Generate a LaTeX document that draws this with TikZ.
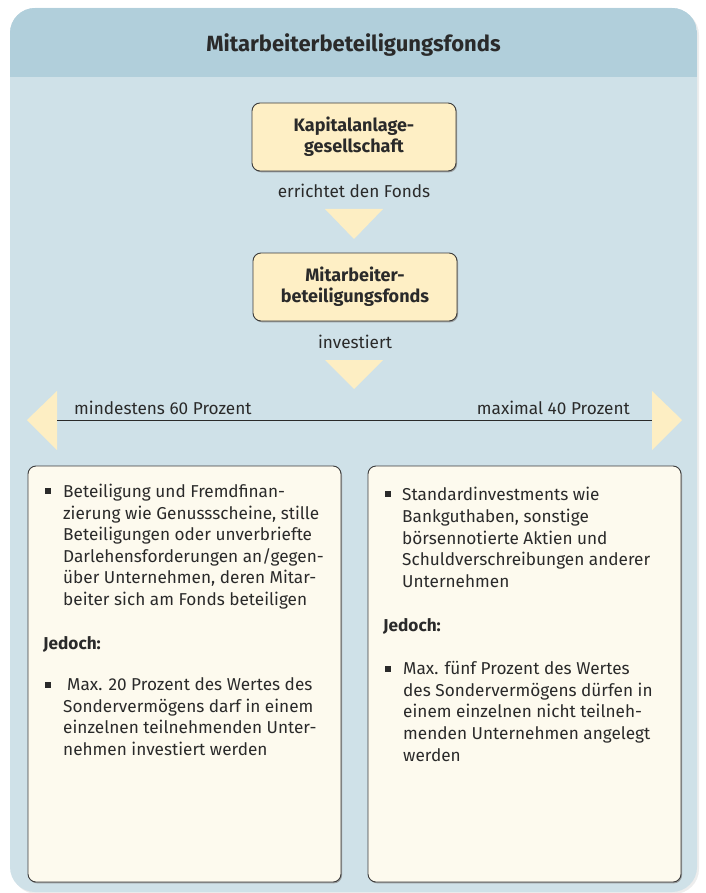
\documentclass[tikz,border=0pt]{standalone}
\usepackage{fontspec}
\setmainfont{Fira Sans}
\usetikzlibrary{shadows}
\definecolor{headblue}{HTML}{B1CFDB}
\definecolor{bodyblue}{HTML}{CFE1E8}
\definecolor{boxyellow}{HTML}{FEEFC5}
\definecolor{triyellow}{HTML}{FDEEC3}
\definecolor{paleyellow}{HTML}{FDFAEE}
\definecolor{ink}{HTML}{2A2A2A}
\definecolor{edge}{HTML}{3C3C3C}
\tikzset{
  x=1pt, y=-1pt,
  topbox/.style={draw=edge, line width=0.9pt, fill=boxyellow, rounded corners=8pt,
    minimum width=204pt, minimum height=68pt, inner sep=0pt, align=center,
    font=\fontsize{18}{21}\selectfont\bfseries, text=ink,
    drop shadow={shadow xshift=1pt, shadow yshift=-1.3pt, fill=black!45, opacity=0.8}},
  listbox/.style={draw=edge, line width=0.9pt, fill=paleyellow, rounded corners=8pt,
    drop shadow={shadow xshift=1pt, shadow yshift=-1.3pt, fill=black!45, opacity=0.8}},
  flowlabel/.style={font=\fontsize{17.2}{20}\selectfont, text=ink, inner sep=0pt},
  tri/.style={fill=triyellow},
  txt/.style={font=\fontsize{17.2}{21.6}\selectfont, text=ink, inner sep=0pt, anchor=base west},
  hd/.style={font=\fontsize{17.2}{21.6}\selectfont\bfseries, text=ink, inner sep=0pt, anchor=base west},
  bul/.style={fill=ink, minimum size=5.5pt, inner sep=0pt},
}
\begin{document}
\begin{tikzpicture}
\useasboundingbox (0,0) rectangle (705,893);
% panel
\fill[black!7] (12,10) [rounded corners=25pt] rectangle (699,894);
\fill[bodyblue, rounded corners=25pt] (10,8) rectangle (697,892);
\begin{scope}
  \clip[rounded corners=25pt] (10,8) rectangle (697,892);
  \fill[headblue] (10,8) rectangle (697,77);
\end{scope}
\node[font=\fontsize{22}{24}\selectfont\bfseries, text=ink, inner sep=0pt] (title) at (353.5,45) {Mitarbeiterbeteiligungsfonds};

% flow
\node[topbox] (kag) at (354,137) {Kapitalanlage-\\gesellschaft};
\node[flowlabel] (l1) at (354,191) {errichtet den Fonds};
\fill[tri] (325,209) coordinate (t1a) -- (383,209) coordinate (t1b) -- (354,239) coordinate (t1c) -- cycle;
\node[topbox] (mbf) at (355,287) {Mitarbeiter-\\beteiligungsfonds};
\node[flowlabel] (l2) at (355,342) {investiert};
\fill[tri] (325,360) coordinate (t2a) -- (383,360) coordinate (t2b) -- (354,389) coordinate (t2c) -- cycle;

% split
\coordinate (lend) at (57,420);
\coordinate (rend) at (652,420);
\fill[tri] (57,391) -- (27,420) -- (57,450) -- cycle;
\fill[tri] (652,391) -- (682,420) -- (652,450) -- cycle;
\draw[ink, line width=0.9pt] (lend) -- (rend);
\node[flowlabel, anchor=base west] (lmin) at (74,414) {mindestens 60 Prozent};
\node[flowlabel, anchor=base east] (rmax) at (630,414) {maximal 40 Prozent};

% lower boxes
\path[listbox] (28,466) rectangle (341,882);
\path[listbox] (368,466) rectangle (681,882);

% left box text
\node[bul] (b1) at (48,491) {};
\foreach \yy/\tt in {497/{Beteiligung und Fremdfinan-},
  519/{zierung wie Genussscheine, stille},
  540/{Beteiligungen oder unverbriefte},
  562/{Darlehensforderungen an/gegen-},
  583/{über Unternehmen, deren Mitar-},
  605/{beiter sich am Fonds beteiligen}}
  \node[txt] (la\yy) at (63,\yy) {\tt};
\node[hd] (jl) at (43,649) {Jedoch:};
\node[bul] (b2) at (48,685) {};
\node[txt] (lb1) at (67,690) {Max. 20 Prozent des Wertes des};
\foreach \yy/\tt in {712/{Sondervermögens darf in einem},
  733/{einzelnen teilnehmenden Unter-},
  755/{nehmen investiert werden}}
  \node[txt] (lb\yy) at (63,\yy) {\tt};

% right box text
\node[bul] (b3) at (388,494) {};
\foreach \yy/\tt in {500/{Standardinvestments wie},
  522/{Bankguthaben, sonstige},
  544/{börsennotierte Aktien und},
  565/{Schuldverschreibungen anderer},
  587/{Unternehmen}}
  \node[txt] (ra\yy) at (402,\yy) {\tt};
\node[hd] (jr) at (383,631) {Jedoch:};
\node[bul] (b4) at (388,669) {};
\foreach \yy/\tt in {674/{Max. fünf Prozent des Wertes},
  696/{des Sondervermögens dürfen in},
  717/{einem einzelnen nicht teilneh-},
  739/{menden Unternehmen angelegt},
  761/{werden}}
  \node[txt] (rb\yy) at (403,\yy) {\tt};
\end{tikzpicture}
\end{document}
